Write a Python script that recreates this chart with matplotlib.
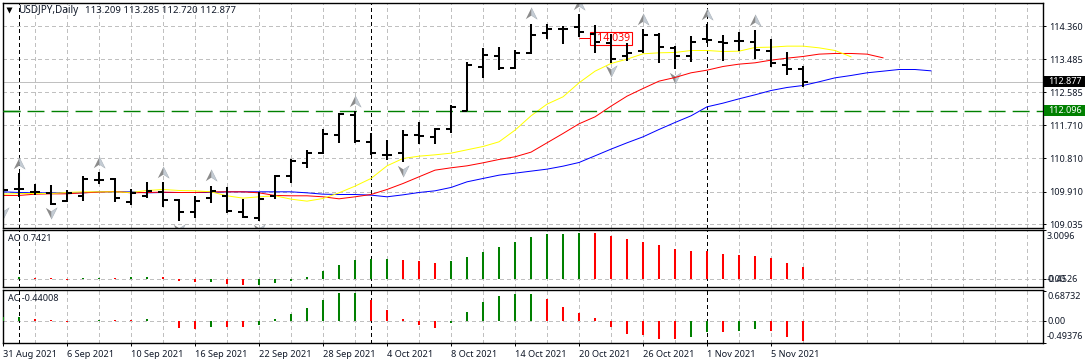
import matplotlib
matplotlib.use("Agg")
import matplotlib.pyplot as plt
from matplotlib.path import Path
from matplotlib.patches import Rectangle
from matplotlib.transforms import IdentityTransform

FONT = "Noto Sans"
plt.rcParams["font.family"] = [FONT, "DejaVu Sans"]

OPEN = [109.958,109.976,109.904,109.886,109.662,109.806,110.227,110.254,109.644,109.797,109.913,109.680,109.375,109.743,109.806,109.375,109.196,109.806,110.344,110.693,110.962,111.446,111.966,111.258,110.899,110.944,111.437,111.392,111.607,112.092,113.275,113.571,113.239,113.652,114.189,114.297,114.333,114.171,113.929,113.562,113.696,114.136,113.786,113.562,114.019,113.947,113.965,113.947,113.714,113.311,113.209]
HIGH = [110.092,110.425,110.119,110.092,109.958,110.335,110.443,110.272,109.994,110.173,110.173,109.725,109.797,110.083,110.030,109.707,109.904,110.353,110.783,111.043,111.616,112.038,112.083,111.482,111.303,111.572,111.778,111.634,112.244,113.400,113.768,113.804,113.723,114.440,114.440,114.369,114.683,114.396,114.171,113.920,114.279,114.189,113.831,114.100,114.423,114.127,114.207,114.261,114.019,113.669,113.285]
LOW = [109.572,109.779,109.832,109.572,109.626,109.671,110.119,109.626,109.572,109.752,109.510,109.115,109.214,109.599,109.330,109.196,109.115,109.707,110.155,110.541,110.917,111.213,111.231,110.899,110.765,110.702,111.186,111.204,111.500,112.083,112.979,113.194,113.203,113.607,114.010,113.876,114.064,113.634,113.383,113.427,113.634,113.365,113.212,113.392,113.920,113.436,113.705,113.481,113.275,113.060,112.720]
CLOSE = [109.958,109.976,109.904,109.581,109.886,110.245,110.227,109.734,109.886,109.922,109.689,109.375,109.671,109.940,109.402,109.232,109.725,110.335,110.729,110.962,111.464,112.011,111.267,110.962,110.899,111.446,111.419,111.598,112.199,113.320,113.580,113.239,113.660,114.118,114.297,114.297,114.216,113.947,113.481,113.660,114.118,113.804,113.571,113.956,114.001,113.920,113.965,113.732,113.391,113.221,112.877]

LIPS = [109.850,109.868,109.868,109.868,109.895,109.913,109.913,109.913,109.895,109.949,109.976,109.949,109.940,109.913,109.806,109.743,109.779,109.806,109.716,109.662,109.734,109.886,110.066,110.272,110.612,110.810,110.872,110.908,110.953,111.043,111.132,111.258,111.572,111.957,112.271,112.468,112.845,113.158,113.365,113.481,113.625,113.652,113.661,113.714,113.714,113.687,113.696,113.795,113.804,113.831,113.831,113.786,113.714,113.544]
TEETH = [109.815,109.815,109.850,109.859,109.859,109.886,109.904,109.922,109.886,109.895,109.904,109.895,109.895,109.913,109.913,109.913,109.886,109.815,109.806,109.806,109.779,109.725,109.779,109.841,109.976,110.137,110.317,110.496,110.559,110.612,110.693,110.783,110.855,110.980,111.231,111.482,111.742,111.930,112.217,112.486,112.692,112.890,112.988,113.114,113.185,113.284,113.347,113.383,113.454,113.508,113.553,113.616,113.634,113.634,113.616,113.517]
JAW = [109.913,109.895,109.886,109.886,109.886,109.886,109.913,109.913,109.913,109.886,109.895,109.895,109.895,109.895,109.913,109.913,109.913,109.913,109.913,109.886,109.850,109.841,109.841,109.824,109.779,109.832,109.895,109.940,110.030,110.182,110.272,110.361,110.415,110.469,110.523,110.603,110.702,110.881,111.061,111.231,111.392,111.590,111.778,111.957,112.199,112.298,112.414,112.522,112.638,112.719,112.773,112.872,112.979,113.042,113.114,113.158,113.203,113.203,113.167]

AO = [0.0,0.10,0.04,0.06,-0.06,0.04,0.04,0.06,0.12,0.12,0.12,-0.12,-0.21,-0.19,-0.31,-0.37,-0.37,-0.25,-0.12,0.12,0.49,0.87,1.17,1.24,1.24,1.17,1.11,0.99,1.11,1.36,1.67,1.98,2.29,2.60,2.78,2.78,2.84,2.84,2.66,2.47,2.29,2.10,1.85,1.73,1.73,1.55,1.48,1.42,1.30,0.99,0.7421]
AO_COL = "ggrrrggrggrrrgrrggggggggg" + "rrr" + "ggggggggg" + "r" * 14
AC = [0.09,0.09,0.045,0.015,-0.03,0.007,0.015,0.022,0.022,0.045,0.007,-0.149,-0.172,-0.127,-0.127,-0.127,-0.082,0.052,0.164,0.298,0.477,0.634,0.634,0.477,0.254,0.052,-0.082,-0.149,-0.037,0.209,0.433,0.567,0.612,0.612,0.5,0.321,0.187,0.075,-0.127,-0.283,-0.306,-0.395,-0.395,-0.351,-0.239,-0.239,-0.216,-0.172,-0.216,-0.351,-0.44008]
AC_COL = "ggrrrggrrgrrrgrrggggggg" + "rrrrr" + "gggggg" + "r" * 9 + "ggrggrrr"

FRACT_UP = [1, 6, 10, 13, 22, 33, 36, 40, 44, 47]
FRACT_DN = [0, 3, 11, 16, 25, 38, 42]
PRICE_TICKS = [114.360, 113.485, 112.585, 111.710, 110.810, 109.910, 109.035]
PERIOD_LINES = [1, 23, 44]
DATE_POS = list(range(0, 49, 4))
DATE_LABELS = ["31 Aug 2021","6 Sep 2021","10 Sep 2021","16 Sep 2021","22 Sep 2021","28 Sep 2021","4 Oct 2021","8 Oct 2021","14 Oct 2021","20 Oct 2021","26 Oct 2021","1 Nov 2021","5 Nov 2021"]
BID, SUPPORT, MARK = 112.877, 112.096, 114.039

W, H = 1088, 364
fig = plt.figure(figsize=(W / 100, H / 100), dpi=100, facecolor="white")
L, R = 2.7, 1042.7
PX = 0.72
TXT = "#101828"
FS = 6.5
COLS = {"g": "#008000", "r": "#ff0000"}
GRID = dict(color="#c0c0c0", lw=PX, ls=(0, (3, 3)), zorder=0.5, antialiased=False)


def make_ax(top, bottom):
    ax = fig.add_axes([L / W, 1 - bottom / H, (R - L) / W, (bottom - top) / H])
    ax.set_xlim(-0.02, 64.98)
    for s in ax.spines.values():
        s.set_linewidth(1.0)
        s.set_color("black")
    ax.yaxis.tick_right()
    ax.tick_params(axis="y", length=2, width=0.7, pad=2.5, labelsize=FS, labelcolor=TXT)
    ax.set_xticks([])
    ax.set_axisbelow(True)
    for x in range(2, 65, 2):
        if x not in PERIOD_LINES:
            ax.axvline(x, **GRID)
    for x in PERIOD_LINES:
        ax.axvline(x, color="black", lw=PX, ls=(0, (3, 3)), zorder=0.8, antialiased=False)
    return ax


def ptext(x, y, s, **kw):
    kw.setdefault("color", TXT)
    kw.setdefault("fontsize", FS)
    return fig.text(x / W, 1 - y / H, s, va="center", ha="left", **kw)


# main price panel
ax = make_ax(2.5, 228)
ax.set_ylim(108.94, 115.005)
ax.set_yticks(PRICE_TICKS)
ax.set_yticklabels([f"{v:.3f}" for v in PRICE_TICKS])
for v in PRICE_TICKS:
    ax.axhline(v, **GRID)
ax.axhline(BID, color="#c0c0c0", lw=PX, zorder=0.7, antialiased=False)
# the solid stub restores the first dash at the left edge
ax.plot([-0.02, 64.98], [SUPPORT, SUPPORT], color="#008000", lw=1.0, ls=(0, (12.2, 5.1)), zorder=2.9, dash_capstyle="butt")
ax.plot([-0.02, 1.05], [SUPPORT, SUPPORT], color="#008000", lw=1.0, zorder=2.9, solid_capstyle="butt")

n = range(len(OPEN))
ax.plot(range(len(JAW)), JAW, color="#0000ff", lw=PX, zorder=2)
ax.plot(range(len(TEETH)), TEETH, color="#ff0000", lw=PX, zorder=2.1)
ax.plot(range(len(LIPS)), LIPS, color="#ffff00", lw=PX, zorder=2.2)

# arrow fractals (two-tone)
up_l = Path([(-1, -1), (0, 1), (0, -0.35), (-1, -1)], closed=True)
up_r = Path([(1, -1), (0, 1), (0, -0.35), (1, -1)], closed=True)
dn_l = Path([(-1, 1), (0, -1), (0, 0.35), (-1, 1)], closed=True)
dn_r = Path([(1, 1), (0, -1), (0, 0.35), (1, 1)], closed=True)
for idx, base, off, pl, pr in [(FRACT_UP, HIGH, 0.27, up_l, up_r), (FRACT_DN, LOW, -0.23, dn_l, dn_r)]:
    xs = idx
    ys = [base[i] + off for i in idx]
    ax.plot(xs, ys, ls="", marker=pl, ms=8.2, mfc="#8b8b8b", mec="none", zorder=1.5)
    ax.plot(xs, ys, ls="", marker=pr, ms=8.2, mfc="#c4ccd4", mec="#a0a8b0", mew=0.3, zorder=1.5)

# bars
TICK = 0.31
ax.vlines(list(n), LOW, HIGH, color="black", lw=1.45, zorder=3)
ax.hlines(OPEN, [i - TICK for i in n], list(n), color="black", lw=1.45, zorder=3)
ax.hlines(CLOSE, list(n), [i + TICK for i in n], color="black", lw=1.45, zorder=3)

# marked price
ax.hlines(MARK, 36, 37.5, color="#ff0000", lw=PX, zorder=2.4)
ax.text(37.98, MARK, f"{MARK:.3f}", color="#ff0000", fontsize=7.6, ha="center", va="center", zorder=2.5,
        bbox=dict(boxstyle="square,pad=0.12", fc="white", ec="#ff0000", lw=0.8))

# header
ax.plot([6.5 / (R - L)], [0.966], marker="v", ms=3.8, color="black", mec="none", transform=ax.transAxes, zorder=5)
ptext(18.5, 10.5, "USDJPY,Daily", fontsize=7.2)
ptext(85.3, 10.5, "113.209 113.285 112.720 112.877", fontsize=6.9)

# price flags
fig.canvas.draw()
for val, col in [(BID, "black"), (SUPPORT, "#008000")]:
    yd = ax.transData.transform((0, val))[1]
    fig.add_artist(Rectangle((1044, yd - 5.3), 41, 10.6, transform=IdentityTransform(), fc=col, ec="none", zorder=6))
    ptext(1048.5, H - yd, f"{val:.3f}", color="white", zorder=7)

# AO panel
ao = make_ax(229.5, 287)
ao.set_ylim(-0.494, 3.06)
ao.axhline(0, **GRID)
ao.vlines(range(len(AO)), 0, AO, colors=[COLS[c] for c in AO_COL], lw=1.45, zorder=3)
ao.set_yticks([0, 3.0096])
ao.set_yticklabels([])
ptext(7.7, 238.7, "AO 0.7421")
ptext(1047, 236.7, "3.0096")
ptext(1047, 280, "0.00")
ptext(1047, 280, "-0.4526")

# AC panel
ac = make_ax(289.5, 343)
ac.set_ylim(-0.486, 0.712)
ac.axhline(0, **GRID)
ac.vlines(range(len(AC)), 0, AC, colors=[COLS[c] for c in AC_COL], lw=1.45, zorder=3)
ac.set_yticks([0, 0.68732, -0.49376])
ac.set_yticklabels([])
ptext(7.7, 298.3, "AC -0.44008")
ptext(1047, 296.3, "0.68732")
ptext(1047, 321.3, "0.00")
ptext(1047, 336.7, "-0.49376")
ac.set_xticks(DATE_POS)
ac.set_xticklabels(DATE_LABELS, ha="left", fontsize=FS + 0.1, color=TXT)
ac.tick_params(axis="x", length=2, width=0.7, pad=3)

fig.savefig("out.png", dpi=100, facecolor="white")
